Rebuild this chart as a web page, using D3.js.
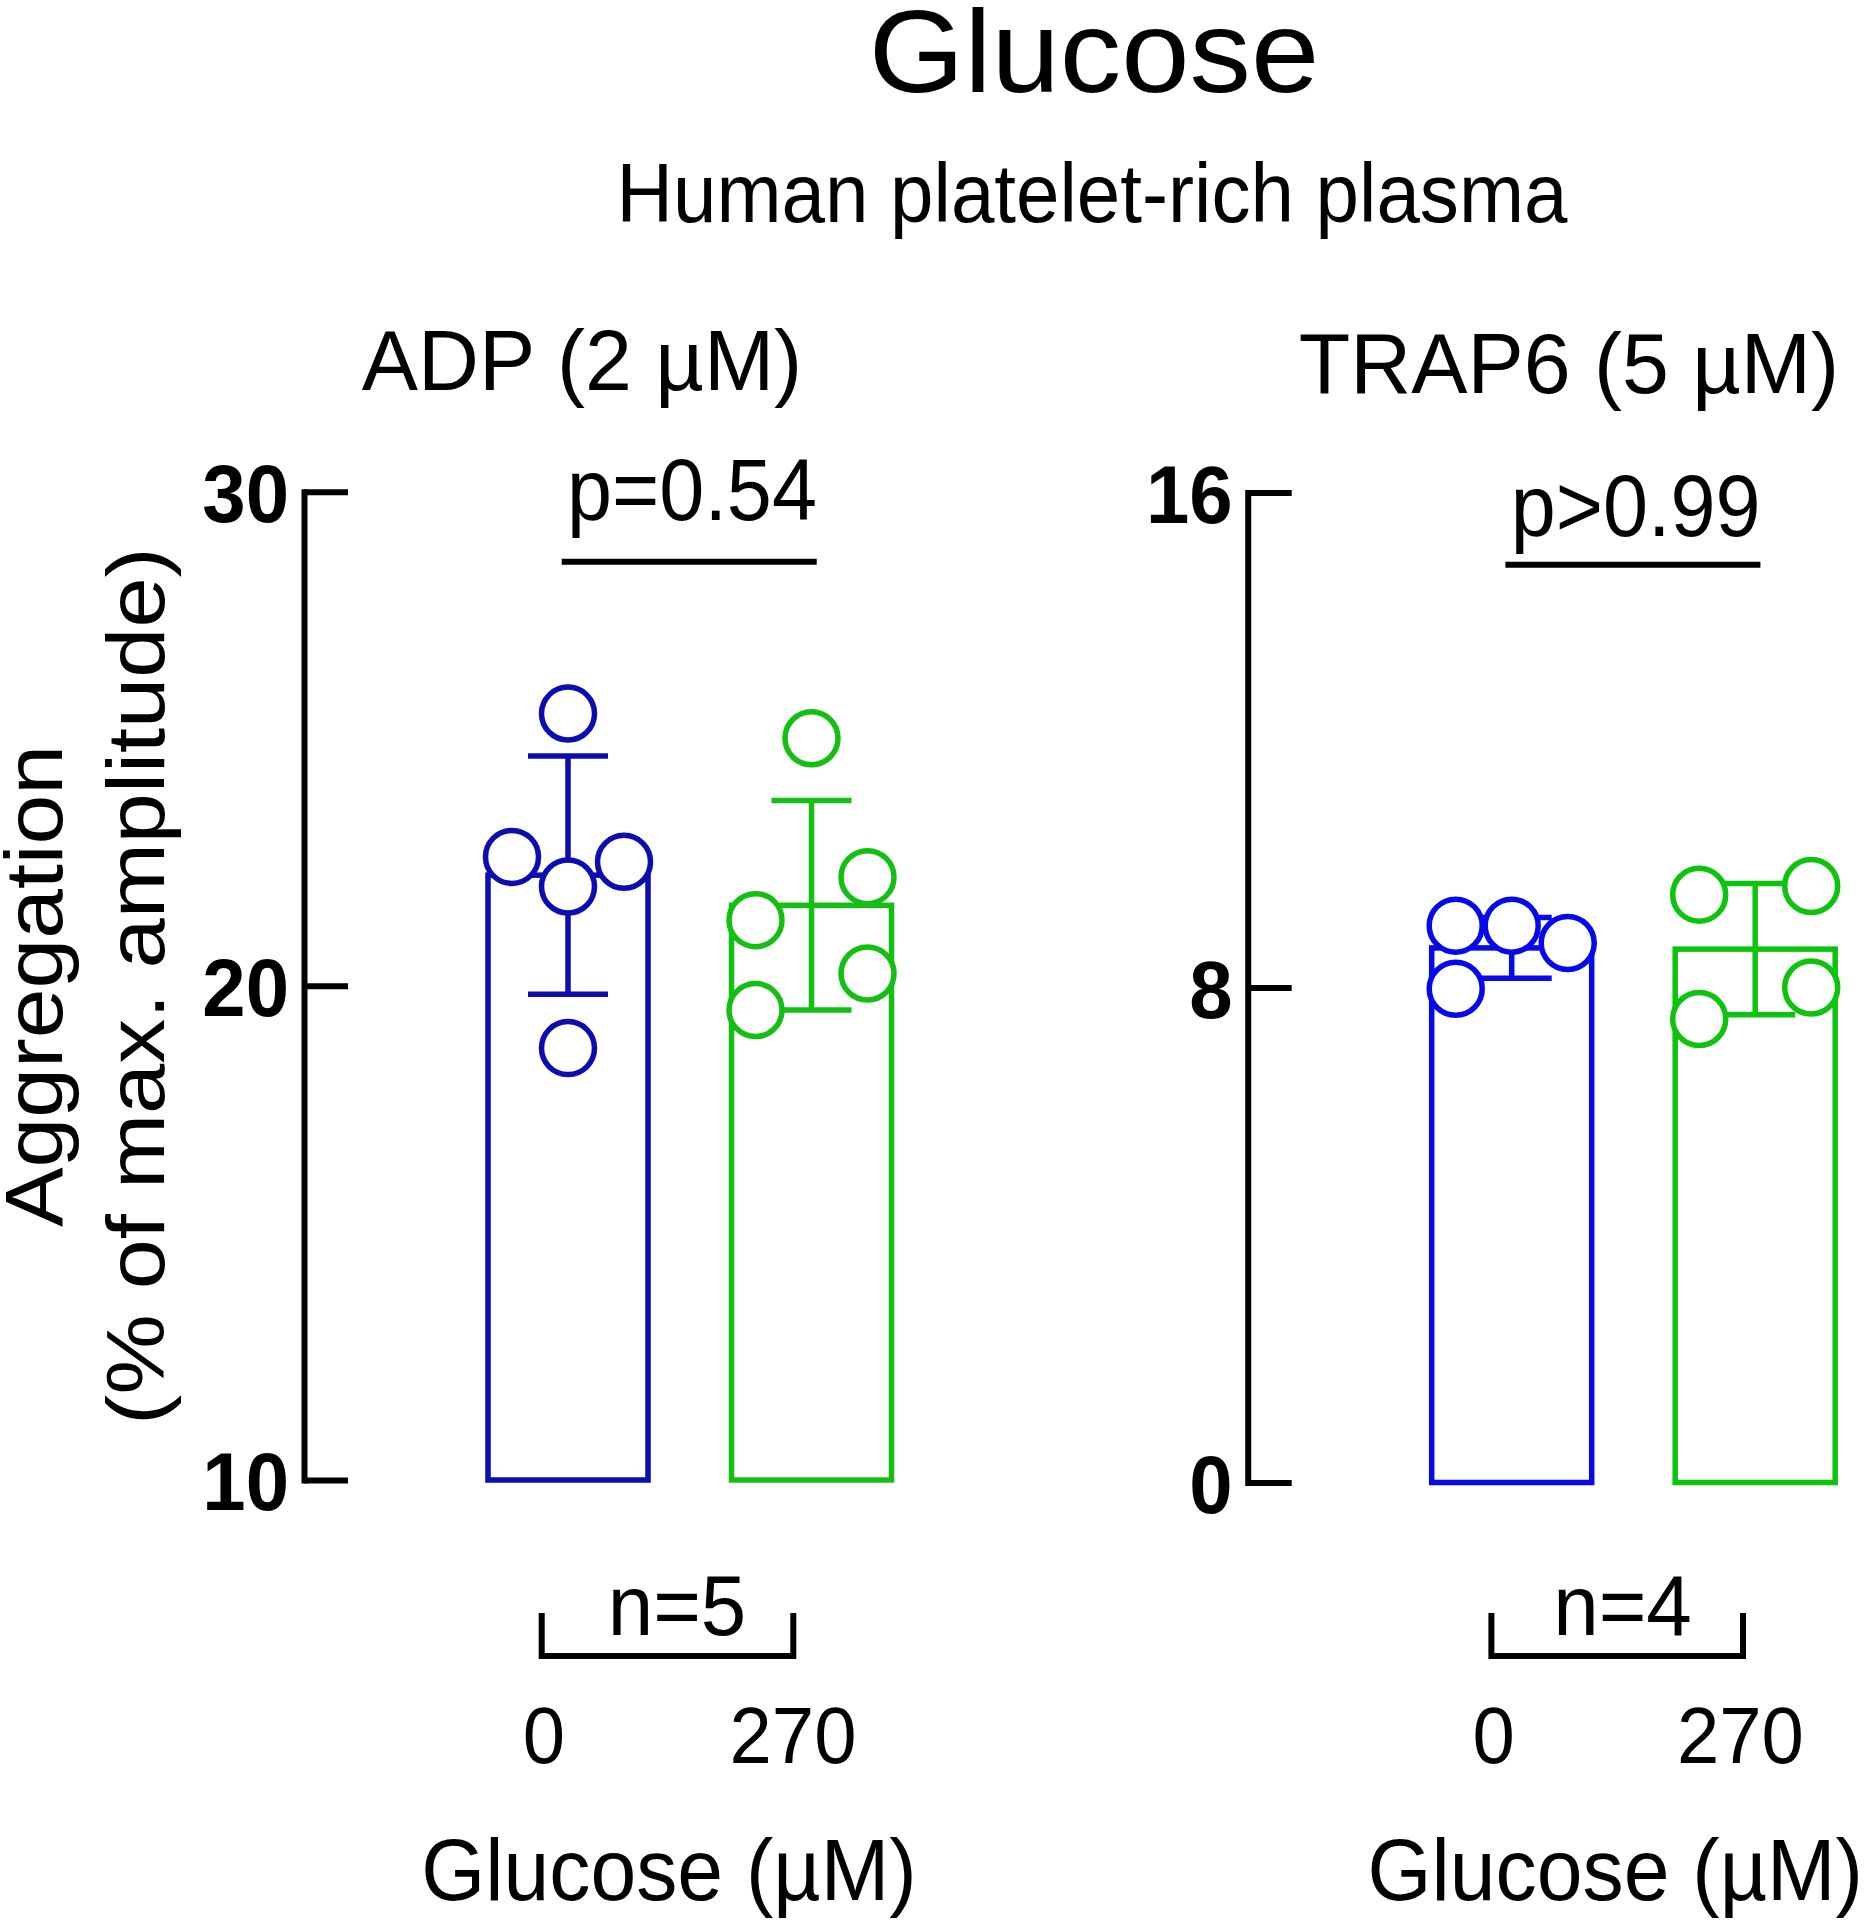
<!DOCTYPE html>
<html><head><meta charset="utf-8">
<script src="https://cdn.jsdelivr.net/npm/d3@7"></script>
<style>body{margin:0;background:#fff} svg text{font-family:"Liberation Sans",Arial,Helvetica,sans-serif;fill:#000}</style>
</head><body>
<svg id="c" width="1866" height="1920"></svg>
<script>
// ---------- data ----------
const categories = ["0", "270"];
const panelTitles = ["ADP (2 µM)", "TRAP6 (5 µM)"];
const adpPoints0 = [25.51, 22.61, 22.01, 22.51, 18.74];
const adpOffsets0 = [0, -1, 0, 1, 0];
const adpPoints270 = [25.01, 22.20, 21.33, 20.25, 19.51];
const adpOffsets270 = [0, 1, -1, 1, -1];
const adpMeans = [22.24, 21.63];
const adpSD = [2.41, 2.12];
const trapPoints0 = [9.00, 9.00, 8.72, 7.98];
const trapOffsets0 = [-1, 0, 1, -1];
const trapPoints270 = [9.50, 9.64, 8.00, 7.49];
const trapOffsets270 = [-1, 1, 1, -1];
const trapMeans = [8.64, 8.62];
const trapSD = [0.49, 1.06];
const adpTicks = [10, 20, 30];
const trapTicks = [0, 8, 16];
const pLabels = ["p=0.54", "p>0.99"];
const nLabels = ["n=5", "n=4"];
const title = "Glucose";
const subtitle = "Human platelet-rich plasma";
const yLabel1 = "Aggregation";
const yLabel2 = "(% of max. amplitude)";
const xTitle = "Glucose (µM)";

// ---------- helpers ----------
const svg = d3.select("#c");
function condense(sel, sx) {
  sel.each(function () {
    const w = this.getComputedTextLength();
    d3.select(this).attr("textLength", w * sx).attr("lengthAdjust", "spacingAndGlyphs");
  });
  return sel;
}
function addText(g, x, y, str, size, opts = {}) {
  const t = g.append("text")
    .attr("x", x).attr("y", y)
    .attr("text-anchor", opts.anchor || "middle")
    .attr("font-size", size)
    .attr("font-weight", opts.weight || "normal")
    .text(str);
  if (opts.rotate) t.attr("transform", `rotate(${opts.rotate},${x},${y})`);
  condense(t, opts.sx || 0.95);
  if (opts.maxRight) {
    const L = +t.attr("textLength");
    if (x + L / 2 > opts.maxRight) t.attr("x", opts.maxRight - L / 2);
  }
  return t;
}

// ---------- titles ----------
addText(svg, 1094, 92, title, 117, { sx: 1.05 });
addText(svg, 1092, 222, subtitle, 84, { sx: 0.93 });
addText(svg, 62, 986, yLabel1, 82, { rotate: -90, sx: 1.09 });
addText(svg, 164, 986, yLabel2, 82, { rotate: -90, sx: 1.10 });

// ---------- panels ----------
const panels = [
  {
    axisX: 304, yTop: 491.7, yBottom: 1480, domain: [10, 30], ticks: adpTicks,
    points: [adpPoints0, adpPoints270], offsets: [adpOffsets0, adpOffsets270],
    means: adpMeans, sds: adpSD, colors: ["#0c0cb0", "#14bf14"],
    title: panelTitles[0], titleX: 582, titleY: 390,
    p: pLabels[0], pY: 520, pLineY: 561.7, n: nLabels[0],
    shift: 0
  },
  {
    axisX: 1247.7, yTop: 492.5, yBottom: 1482.5, domain: [0, 16], ticks: trapTicks,
    points: [trapPoints0, trapPoints270], offsets: [trapOffsets0, trapOffsets270],
    means: trapMeans, sds: trapSD, colors: ["#0808ec", "#0cc40c"],
    title: panelTitles[1], titleX: 1569, titleY: 393,
    p: pLabels[1], pY: 536, pLineY: 564.7, n: nLabels[1],
    shift: 6
  }
];

const SW = 5.5;
panels.forEach(P => {
  const g = svg.append("g");
  const y = d3.scaleLinear().domain(P.domain).range([P.yBottom, P.yTop]);
  const x = d3.scalePoint().domain(categories).range([P.axisX + 264, P.axisX + 507.5]);
  const jitter = d3.scaleLinear().domain([-1, 1]).range([-56, 56]);
  const barW = 160, capW = 40, r = 26.5;

  // panel title
  addText(g, P.titleX, P.titleY, P.title, 86, { sx: 0.98 });

  // axis
  const ax = g.append("g").attr("transform", `translate(${P.axisX},0)`)
    .call(d3.axisLeft(y).tickValues(P.ticks).tickSizeInner(-44).tickSizeOuter(0).tickPadding(15));
  ax.select(".domain").attr("stroke", "#000").attr("stroke-width", 6).attr("stroke-linecap", "square");
  ax.selectAll(".tick line").attr("stroke", "#000").attr("stroke-width", 6);
  ax.selectAll(".tick text").attr("font-size", 82).attr("font-weight", "bold")
    .attr("font-family", "'Liberation Sans',Arial,sans-serif").attr("fill", "#000").attr("dy", "0.36em");
  condense(ax.selectAll(".tick text"), 0.95);

  // bars + error bars
  categories.forEach((c, i) => {
    const col = P.colors[i];
    const xc = x(c);
    g.append("rect")
      .attr("x", xc - barW / 2).attr("width", barW)
      .attr("y", y(P.means[i])).attr("height", y(P.domain[0]) - y(P.means[i]))
      .attr("fill", "none").attr("stroke", col).attr("stroke-width", SW);
    const hi = y(P.means[i] + P.sds[i]), lo = y(P.means[i] - P.sds[i]);
    g.append("line").attr("x1", xc).attr("x2", xc).attr("y1", hi).attr("y2", lo)
      .attr("stroke", col).attr("stroke-width", SW);
    [hi, lo].forEach(v => g.append("line").attr("x1", xc - capW).attr("x2", xc + capW)
      .attr("y1", v).attr("y2", v).attr("stroke", col).attr("stroke-width", SW));
  });
  // points
  categories.forEach((c, i) => {
    const col = P.colors[i];
    g.selectAll(null).data(P.points[i].map((v, k) => ({ v, o: P.offsets[i][k] })))
      .enter().append("circle")
      .attr("cx", d => x(c) + jitter(d.o)).attr("cy", d => y(d.v)).attr("r", r)
      .attr("fill", "#fff").attr("stroke", col).attr("stroke-width", SW);
  });

  // p bracket
  g.append("line").attr("x1", P.axisX + 257.7).attr("x2", P.axisX + 512.7)
    .attr("y1", P.pLineY).attr("y2", P.pLineY).attr("stroke", "#000").attr("stroke-width", 6);
  addText(g, P.axisX + 388, P.pY, P.p, 88, { sx: 0.92 });

  // n bracket
  const nl = P.axisX + 237.7 + P.shift, nr = P.axisX + 489.3 + P.shift;
  g.append("path").attr("d", `M${nl},1613V1656H${nr}V1613`)
    .attr("fill", "none").attr("stroke", "#000").attr("stroke-width", 6);
  addText(g, P.axisX + 373 + P.shift * 0.3, 1635, P.n, 86, { sx: 0.95 });

  // category labels
  addText(g, P.axisX + 240 + P.shift, 1763, categories[0], 80, { sx: 0.95 });
  addText(g, P.axisX + 489 + P.shift * 0.6, 1763, categories[1], 80, { sx: 0.95 });

  // x title
  addText(g, P.axisX + 365 + P.shift * 0.5, 1900, xTitle, 88, { sx: 0.935, maxRight: 1863 });
});
</script>
</body></html>
